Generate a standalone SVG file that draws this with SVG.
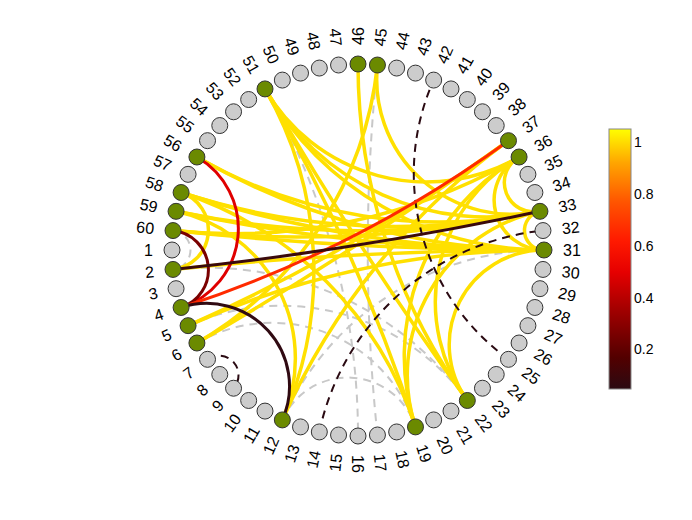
<svg xmlns="http://www.w3.org/2000/svg" width="692" height="520" viewBox="0 0 692 520">
<defs>
<linearGradient id="cm" x1="0" y1="1" x2="0" y2="0">
<stop offset="0" stop-color="#2b0a12"/>
<stop offset="0.12" stop-color="#520000"/>
<stop offset="0.3" stop-color="#a00000"/>
<stop offset="0.45" stop-color="#e60000"/>
<stop offset="0.57" stop-color="#ff1a00"/>
<stop offset="0.72" stop-color="#ff5500"/>
<stop offset="0.87" stop-color="#ffa500"/>
<stop offset="1" stop-color="#ffff00"/>
</linearGradient>
<style>
.y{fill:none;stroke:#ffe000;stroke-width:3.5}
.gd{fill:none;stroke:#c8c8c8;stroke-width:2;stroke-dasharray:8 6}
.dd{fill:none;stroke:#2a0a12;stroke-width:2;stroke-dasharray:8 6}
.c{fill:none;stroke-width:3}
circle{stroke:#333;stroke-width:1}
.gr{fill:#cccccc}
.gn{fill:#6b8a00}
text{font-family:"Liberation Sans",Arial,sans-serif;font-size:16px;fill:#000}
.r{text-anchor:start}
.l{text-anchor:end}
.cb{font-size:14px}
</style>
</defs>
<rect width="692" height="520" fill="#fff"/>
<g id="connectors">
<path class="gd" d="M377.44,434.98 A1769.67 1769.67 0 0 1 377.44,65.02"/>
<path class="gd" d="M265,88.92 A694.16 694.16 0 0 1 358,436"/>
<path class="gd" d="M173.02,230.56 A19.55 19.55 0 0 1 173.02,269.44"/>
<path class="gd" d="M282.35,419.92 A71.40 71.40 0 0 1 415.48,426.90"/>
<path class="gd" d="M196.92,343 A150.62 150.62 0 0 1 415.48,426.90"/>
<path class="gd" d="M188.08,325.65 A229.69 229.69 0 0 1 467.33,400.48"/>
<path class="gd" d="M282.35,419.92 A286.41 286.41 0 0 1 544,250"/>
<path class="gd" d="M173.02,269.44 A322.16 322.16 0 0 1 467.33,400.48"/>
<path class="y" d="M265,88.92 A365.05 365.05 0 0 1 282.35,419.92"/>
<path class="y" d="M265,88.92 A1769.67 1769.67 0 0 1 415.48,426.90"/>
<path class="y" d="M467.33,400.48 A3549.09 3549.09 0 0 1 265,88.92"/>
<path class="y" d="M544,250 A322.16 322.16 0 0 1 265,88.92"/>
<path class="y" d="M539.94,211.33 A256.01 256.01 0 0 1 265,88.92"/>
<path class="y" d="M519.08,157 A186 186 0 0 1 265,88.92"/>
<path class="y" d="M467.33,400.48 A572.45 572.45 0 0 1 358,64"/>
<path class="y" d="M377.44,65.02 A365.05 365.05 0 0 1 196.92,343"/>
<path class="y" d="M539.94,211.33 A135.14 135.14 0 0 1 377.44,65.02"/>
<path class="y" d="M539.94,211.33 A484.55 484.55 0 0 1 196.92,157"/>
<path class="y" d="M544,250 A694.16 694.16 0 0 1 196.92,157"/>
<path class="y" d="M544,250 A1174.36 1174.36 0 0 1 181.10,192.52"/>
<path class="y" d="M539.94,211.33 A694.16 694.16 0 0 1 181.10,192.52"/>
<path class="y" d="M544,250 A1769.67 1769.67 0 0 1 176.06,211.33"/>
<path class="y" d="M539.94,211.33 A875.06 875.06 0 0 1 176.06,211.33"/>
<path class="y" d="M544,250 A3549.09 3549.09 0 0 1 173.02,230.56"/>
<path class="y" d="M539.94,211.33 A1174.36 1174.36 0 0 1 173.02,230.56"/>
<path class="y" d="M519.08,157 A572.45 572.45 0 0 1 173.02,230.56"/>
<path class="y" d="M173.02,269.44 A3549.09 3549.09 0 0 1 544,250"/>
<path class="y" d="M188.08,325.65 A875.06 875.06 0 0 1 544,250"/>
<path class="y" d="M508.48,140.67 A1769.67 1769.67 0 0 1 188.08,325.65"/>
<path class="y" d="M508.48,140.67 A3549.09 3549.09 0 0 1 196.92,343"/>
<path class="y" d="M282.35,419.92 A694.16 694.16 0 0 1 508.48,140.67"/>
<path class="y" d="M539.94,211.33 A29.46 29.46 0 0 1 519.08,157"/>
<path class="y" d="M544,250 A49.84 49.84 0 0 1 519.08,157"/>
<path class="y" d="M544,250 A19.55 19.55 0 0 1 539.94,211.33"/>
<path class="y" d="M467.33,400.48 A167.47 167.47 0 0 1 519.08,157"/>
<path class="y" d="M415.48,426.90 A229.69 229.69 0 0 1 519.08,157"/>
<path class="y" d="M415.48,426.90 A167.47 167.47 0 0 1 539.94,211.33"/>
<path class="y" d="M467.33,400.48 A94.77 94.77 0 0 1 544,250"/>
<path class="y" d="M181.10,192.52 A365.05 365.05 0 0 1 415.48,426.90"/>
<path class="y" d="M176.06,211.33 A150.62 150.62 0 0 1 282.35,419.92"/>
<path class="y" d="M181.10,192.52 A39.54 39.54 0 0 1 173.02,269.44"/>
<path class="dd" d="M508.48,359.33 A229.69 229.69 0 0 1 433.65,80.08"/>
<path class="dd" d="M319.33,431.94 A256.01 256.01 0 0 1 542.98,230.56"/>
<path class="dd" d="M207.52,359.33 A19.55 19.55 0 0 1 233.54,388.22"/>
<path class="c" stroke="#e00000" d="M196.92,157 A82.81 82.81 0 0 1 181.10,307.48"/>
<path class="c" stroke="#7a0000" d="M173.02,230.56 A39.54 39.54 0 0 1 181.10,307.48"/>
<path class="c" stroke="#ff2a00" d="M508.48,140.67 A1174.36 1174.36 0 0 1 181.10,307.48"/>
<path class="c" stroke="#3a0a0c" d="M539.94,211.33 A3549.09 3549.09 0 0 1 173.02,269.44"/>
<path class="c" stroke="#300a12" d="M181.10,307.48 A82.81 82.81 0 0 1 282.35,419.92"/>
</g>
<g id="nodes">
<g id="n1"><circle class="gr" cx="172" cy="250" r="8"/><text class="l" transform="translate(358 250) rotate(0)" x="-205" dy="0.35em">1</text></g>
<g id="n2"><circle class="gn" cx="173.02" cy="269.44" r="8"/><text class="l" transform="translate(358 250) rotate(-6)" x="-205" dy="0.35em">2</text></g>
<g id="n3"><circle class="gr" cx="176.06" cy="288.67" r="8"/><text class="l" transform="translate(358 250) rotate(-12)" x="-205" dy="0.35em">3</text></g>
<g id="n4"><circle class="gn" cx="181.10" cy="307.48" r="8"/><text class="l" transform="translate(358 250) rotate(-18)" x="-205" dy="0.35em">4</text></g>
<g id="n5"><circle class="gn" cx="188.08" cy="325.65" r="8"/><text class="l" transform="translate(358 250) rotate(-24)" x="-205" dy="0.35em">5</text></g>
<g id="n6"><circle class="gn" cx="196.92" cy="343" r="8"/><text class="l" transform="translate(358 250) rotate(-30)" x="-205" dy="0.35em">6</text></g>
<g id="n7"><circle class="gr" cx="207.52" cy="359.33" r="8"/><text class="l" transform="translate(358 250) rotate(-36)" x="-205" dy="0.35em">7</text></g>
<g id="n8"><circle class="gr" cx="219.78" cy="374.46" r="8"/><text class="l" transform="translate(358 250) rotate(-42)" x="-205" dy="0.35em">8</text></g>
<g id="n9"><circle class="gr" cx="233.54" cy="388.22" r="8"/><text class="l" transform="translate(358 250) rotate(-48)" x="-205" dy="0.35em">9</text></g>
<g id="n10"><circle class="gr" cx="248.67" cy="400.48" r="8"/><text class="l" transform="translate(358 250) rotate(-54)" x="-205" dy="0.35em">10</text></g>
<g id="n11"><circle class="gr" cx="265" cy="411.08" r="8"/><text class="l" transform="translate(358 250) rotate(-60)" x="-205" dy="0.35em">11</text></g>
<g id="n12"><circle class="gn" cx="282.35" cy="419.92" r="8"/><text class="l" transform="translate(358 250) rotate(-66)" x="-205" dy="0.35em">12</text></g>
<g id="n13"><circle class="gr" cx="300.52" cy="426.90" r="8"/><text class="l" transform="translate(358 250) rotate(-72)" x="-205" dy="0.35em">13</text></g>
<g id="n14"><circle class="gr" cx="319.33" cy="431.94" r="8"/><text class="l" transform="translate(358 250) rotate(-78)" x="-205" dy="0.35em">14</text></g>
<g id="n15"><circle class="gr" cx="338.56" cy="434.98" r="8"/><text class="l" transform="translate(358 250) rotate(-84)" x="-205" dy="0.35em">15</text></g>
<g id="n16"><circle class="gr" cx="358" cy="436" r="8"/><text class="r" transform="translate(358 250) rotate(90)" x="205" dy="0.35em">16</text></g>
<g id="n17"><circle class="gr" cx="377.44" cy="434.98" r="8"/><text class="r" transform="translate(358 250) rotate(84)" x="205" dy="0.35em">17</text></g>
<g id="n18"><circle class="gr" cx="396.67" cy="431.94" r="8"/><text class="r" transform="translate(358 250) rotate(78)" x="205" dy="0.35em">18</text></g>
<g id="n19"><circle class="gn" cx="415.48" cy="426.90" r="8"/><text class="r" transform="translate(358 250) rotate(72)" x="205" dy="0.35em">19</text></g>
<g id="n20"><circle class="gr" cx="433.65" cy="419.92" r="8"/><text class="r" transform="translate(358 250) rotate(66)" x="205" dy="0.35em">20</text></g>
<g id="n21"><circle class="gr" cx="451" cy="411.08" r="8"/><text class="r" transform="translate(358 250) rotate(60)" x="205" dy="0.35em">21</text></g>
<g id="n22"><circle class="gn" cx="467.33" cy="400.48" r="8"/><text class="r" transform="translate(358 250) rotate(54)" x="205" dy="0.35em">22</text></g>
<g id="n23"><circle class="gr" cx="482.46" cy="388.22" r="8"/><text class="r" transform="translate(358 250) rotate(48)" x="205" dy="0.35em">23</text></g>
<g id="n24"><circle class="gr" cx="496.22" cy="374.46" r="8"/><text class="r" transform="translate(358 250) rotate(42)" x="205" dy="0.35em">24</text></g>
<g id="n25"><circle class="gr" cx="508.48" cy="359.33" r="8"/><text class="r" transform="translate(358 250) rotate(36)" x="205" dy="0.35em">25</text></g>
<g id="n26"><circle class="gr" cx="519.08" cy="343" r="8"/><text class="r" transform="translate(358 250) rotate(30)" x="205" dy="0.35em">26</text></g>
<g id="n27"><circle class="gr" cx="527.92" cy="325.65" r="8"/><text class="r" transform="translate(358 250) rotate(24)" x="205" dy="0.35em">27</text></g>
<g id="n28"><circle class="gr" cx="534.90" cy="307.48" r="8"/><text class="r" transform="translate(358 250) rotate(18)" x="205" dy="0.35em">28</text></g>
<g id="n29"><circle class="gr" cx="539.94" cy="288.67" r="8"/><text class="r" transform="translate(358 250) rotate(12)" x="205" dy="0.35em">29</text></g>
<g id="n30"><circle class="gr" cx="542.98" cy="269.44" r="8"/><text class="r" transform="translate(358 250) rotate(6)" x="205" dy="0.35em">30</text></g>
<g id="n31"><circle class="gn" cx="544" cy="250" r="8"/><text class="r" transform="translate(358 250) rotate(0)" x="205" dy="0.35em">31</text></g>
<g id="n32"><circle class="gr" cx="542.98" cy="230.56" r="8"/><text class="r" transform="translate(358 250) rotate(-6)" x="205" dy="0.35em">32</text></g>
<g id="n33"><circle class="gn" cx="539.94" cy="211.33" r="8"/><text class="r" transform="translate(358 250) rotate(-12)" x="205" dy="0.35em">33</text></g>
<g id="n34"><circle class="gr" cx="534.90" cy="192.52" r="8"/><text class="r" transform="translate(358 250) rotate(-18)" x="205" dy="0.35em">34</text></g>
<g id="n35"><circle class="gr" cx="527.92" cy="174.35" r="8"/><text class="r" transform="translate(358 250) rotate(-24)" x="205" dy="0.35em">35</text></g>
<g id="n36"><circle class="gn" cx="519.08" cy="157" r="8"/><text class="r" transform="translate(358 250) rotate(-30)" x="205" dy="0.35em">36</text></g>
<g id="n37"><circle class="gn" cx="508.48" cy="140.67" r="8"/><text class="r" transform="translate(358 250) rotate(-36)" x="205" dy="0.35em">37</text></g>
<g id="n38"><circle class="gr" cx="496.22" cy="125.54" r="8"/><text class="r" transform="translate(358 250) rotate(-42)" x="205" dy="0.35em">38</text></g>
<g id="n39"><circle class="gr" cx="482.46" cy="111.78" r="8"/><text class="r" transform="translate(358 250) rotate(-48)" x="205" dy="0.35em">39</text></g>
<g id="n40"><circle class="gr" cx="467.33" cy="99.52" r="8"/><text class="r" transform="translate(358 250) rotate(-54)" x="205" dy="0.35em">40</text></g>
<g id="n41"><circle class="gr" cx="451" cy="88.92" r="8"/><text class="r" transform="translate(358 250) rotate(-60)" x="205" dy="0.35em">41</text></g>
<g id="n42"><circle class="gr" cx="433.65" cy="80.08" r="8"/><text class="r" transform="translate(358 250) rotate(-66)" x="205" dy="0.35em">42</text></g>
<g id="n43"><circle class="gr" cx="415.48" cy="73.10" r="8"/><text class="r" transform="translate(358 250) rotate(-72)" x="205" dy="0.35em">43</text></g>
<g id="n44"><circle class="gr" cx="396.67" cy="68.06" r="8"/><text class="r" transform="translate(358 250) rotate(-78)" x="205" dy="0.35em">44</text></g>
<g id="n45"><circle class="gn" cx="377.44" cy="65.02" r="8"/><text class="r" transform="translate(358 250) rotate(-84)" x="205" dy="0.35em">45</text></g>
<g id="n46"><circle class="gn" cx="358" cy="64" r="8"/><text class="r" transform="translate(358 250) rotate(-90)" x="205" dy="0.35em">46</text></g>
<g id="n47"><circle class="gr" cx="338.56" cy="65.02" r="8"/><text class="l" transform="translate(358 250) rotate(84)" x="-205" dy="0.35em">47</text></g>
<g id="n48"><circle class="gr" cx="319.33" cy="68.06" r="8"/><text class="l" transform="translate(358 250) rotate(78)" x="-205" dy="0.35em">48</text></g>
<g id="n49"><circle class="gr" cx="300.52" cy="73.10" r="8"/><text class="l" transform="translate(358 250) rotate(72)" x="-205" dy="0.35em">49</text></g>
<g id="n50"><circle class="gr" cx="282.35" cy="80.08" r="8"/><text class="l" transform="translate(358 250) rotate(66)" x="-205" dy="0.35em">50</text></g>
<g id="n51"><circle class="gn" cx="265" cy="88.92" r="8"/><text class="l" transform="translate(358 250) rotate(60)" x="-205" dy="0.35em">51</text></g>
<g id="n52"><circle class="gr" cx="248.67" cy="99.52" r="8"/><text class="l" transform="translate(358 250) rotate(54)" x="-205" dy="0.35em">52</text></g>
<g id="n53"><circle class="gr" cx="233.54" cy="111.78" r="8"/><text class="l" transform="translate(358 250) rotate(48)" x="-205" dy="0.35em">53</text></g>
<g id="n54"><circle class="gr" cx="219.78" cy="125.54" r="8"/><text class="l" transform="translate(358 250) rotate(42)" x="-205" dy="0.35em">54</text></g>
<g id="n55"><circle class="gr" cx="207.52" cy="140.67" r="8"/><text class="l" transform="translate(358 250) rotate(36)" x="-205" dy="0.35em">55</text></g>
<g id="n56"><circle class="gn" cx="196.92" cy="157" r="8"/><text class="l" transform="translate(358 250) rotate(30)" x="-205" dy="0.35em">56</text></g>
<g id="n57"><circle class="gr" cx="188.08" cy="174.35" r="8"/><text class="l" transform="translate(358 250) rotate(24)" x="-205" dy="0.35em">57</text></g>
<g id="n58"><circle class="gn" cx="181.10" cy="192.52" r="8"/><text class="l" transform="translate(358 250) rotate(18)" x="-205" dy="0.35em">58</text></g>
<g id="n59"><circle class="gn" cx="176.06" cy="211.33" r="8"/><text class="l" transform="translate(358 250) rotate(12)" x="-205" dy="0.35em">59</text></g>
<g id="n60"><circle class="gn" cx="173.02" cy="230.56" r="8"/><text class="l" transform="translate(358 250) rotate(6)" x="-205" dy="0.35em">60</text></g>
</g>
<g id="colorbar">
<rect x="609" y="129" width="22" height="260" fill="url(#cm)" stroke="#888" stroke-width="1"/>
<text class="cb" x="634" y="147">1</text>
<text class="cb" x="634" y="199">0.8</text>
<text class="cb" x="634" y="251">0.6</text>
<text class="cb" x="634" y="303">0.4</text>
<text class="cb" x="634" y="354">0.2</text>
</g>
</svg>
